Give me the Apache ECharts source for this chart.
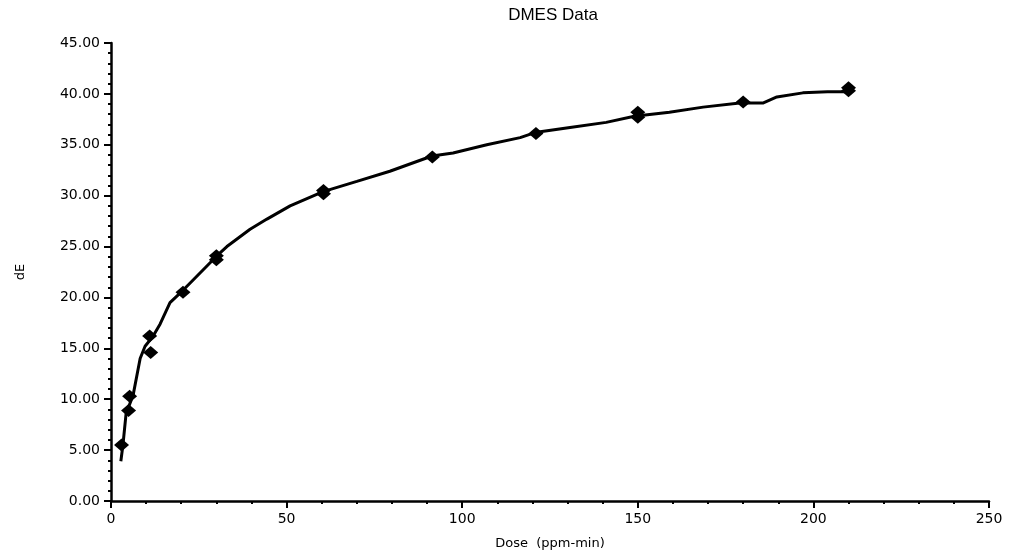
<!DOCTYPE html>
<html>
<head>
<meta charset="utf-8">
<script src="https://cdn.jsdelivr.net/npm/echarts@6/dist/echarts.min.js"></script>
<style>
  html, body { margin: 0; padding: 0; background: #fff; }
  #main { width: 1017px; height: 555px; }
</style>
</head>
<body>
<div id="main"></div>
<script>
// measured points (dose, dE)
const doseData = [3, 5, 5.3, 11.3, 11, 20.5, 30, 30, 60.5, 60.5, 91.5, 121, 150, 150, 180, 210, 210];
const dEData = [5.5, 8.9, 10.3, 14.6, 16.2, 20.5, 23.7, 24.1, 30.2, 30.5, 33.8, 36.1, 37.7, 38.2, 39.2, 40.3, 40.6];

// fitted curve
const fitDose = [2.8, 3.4, 4.3, 6.3, 8.3, 9.7, 12, 14, 16.8, 20.5, 30.2, 33, 39.6, 44.4, 51, 60.4, 70, 79.4, 91.4, 97.4, 107, 116.5, 120.7, 130.7, 141, 149, 159, 168.6, 179, 185.6, 189.6, 197, 204, 209.6];
const fitDE = [3.9, 5.5, 8.6, 10.4, 14.0, 15.2, 16.2, 17.4, 19.5, 20.7, 24.1, 25.0, 26.7, 27.7, 29.0, 30.4, 31.4, 32.4, 33.9, 34.2, 35.0, 35.7, 36.2, 36.7, 37.2, 37.8, 38.2, 38.7, 39.1, 39.1, 39.7, 40.1, 40.2, 40.2];

const xTicks = [0, 50, 100, 150, 200, 250];
const yTicks = [0, 5, 10, 15, 20, 25, 30, 35, 40, 45];

const chart = echarts.init(document.getElementById('main'));

const labelFont = {
  color: '#000',
  fontFamily: 'DejaVu Sans',
  fontSize: 14
};

const option = {
  backgroundColor: '#fff',
  animation: false,
  title: {
    text: 'DMES Data',
    left: 548,
    top: 2,
    textAlign: 'center',
    textStyle: { fontFamily: 'Liberation Sans', fontSize: 17, fontWeight: 'normal', color: '#000' }
  },
  grid: { left: 111, right: 28, top: 43, bottom: 52 },
  xAxis: [{
    type: 'value',
    min: xTicks[0],
    max: xTicks[xTicks.length - 1],
    interval: 50,
    name: 'Dose  (ppm-min)',
    nameLocation: 'middle',
    nameGap: 36,
    nameTextStyle: { fontFamily: 'DejaVu Sans', fontSize: 13, color: '#000' },
    axisLine: { lineStyle: { color: '#000', width: 2.5 } },
    axisTick: { inside: false, length: 7, lineStyle: { color: '#000', width: 2 } },
    minorTick: { show: true, splitNumber: 5, length: 3, lineStyle: { color: '#000', width: 2 } },
    axisLabel: Object.assign({ margin: 11 }, labelFont),
    splitLine: { show: false }
  }, {
    type: 'value',
    position: 'top',
    min: 0,
    max: 250,
    axisLine: { show: true, lineStyle: { color: '#000', width: 1, type: 'dotted' } },
    axisTick: { show: false },
    axisLabel: { show: false },
    splitLine: { show: false }
  }],
  yAxis: [{
    type: 'value',
    min: yTicks[0],
    max: yTicks[yTicks.length - 1],
    interval: 5,
    name: 'dE',
    nameLocation: 'middle',
    nameGap: 84,
    nameTextStyle: { fontFamily: 'DejaVu Sans', fontSize: 13, color: '#000' },
    axisLine: { show: true, lineStyle: { color: '#000', width: 2.5 } },
    axisTick: { show: true, inside: false, length: 7, lineStyle: { color: '#000', width: 2 } },
    minorTick: { show: true, splitNumber: 5, length: 3, lineStyle: { color: '#000', width: 2 } },
    axisLabel: Object.assign({ margin: 11, formatter: v => v.toFixed(2) }, labelFont),
    splitLine: { show: false }
  }, {
    type: 'value',
    position: 'right',
    min: 0,
    max: 45,
    axisLine: { show: true, lineStyle: { color: '#000', width: 1, type: 'dotted' } },
    axisTick: { show: false },
    axisLabel: { show: false },
    splitLine: { show: false }
  }],
  series: [{
    name: 'fit',
    type: 'line',
    data: fitDose.map((d, i) => [d, fitDE[i]]),
    showSymbol: false,
    symbol: 'none',
    lineStyle: { color: '#000', width: 3 },
    z: 2
  }, {
    name: 'data',
    type: 'scatter',
    data: doseData.map((d, i) => [d, dEData[i]]),
    symbol: 'diamond',
    symbolSize: [15, 13],
    itemStyle: { color: '#000', opacity: 1 },
    z: 3
  }]
};

chart.setOption(option);
</script>
</body>
</html>
